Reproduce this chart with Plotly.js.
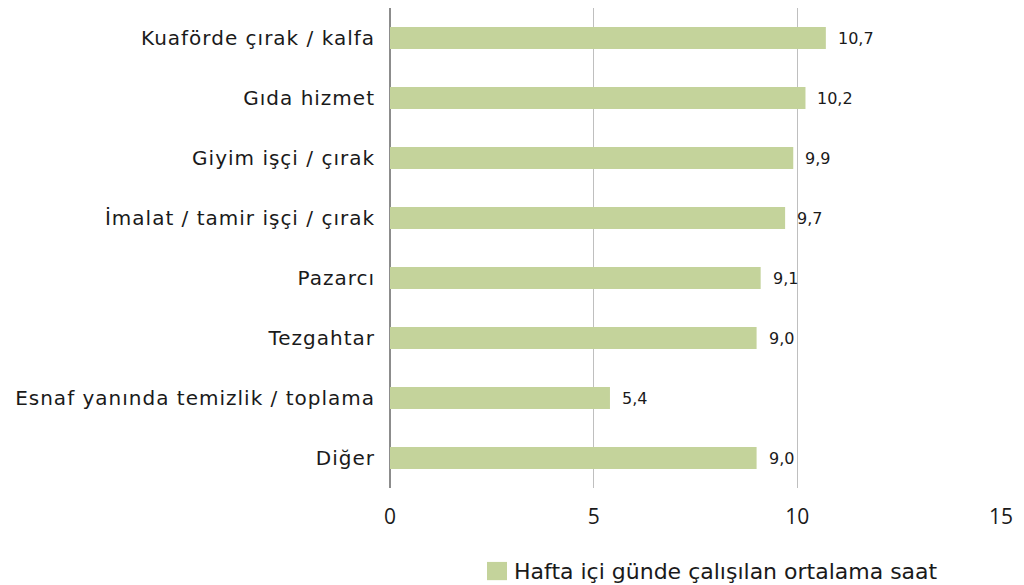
<!DOCTYPE html>
<html>
<head>
<meta charset="utf-8">
<script src="https://cdn.plot.ly/plotly-3.0.1.min.js"></script>
<style>
html,body{margin:0;padding:0;background:#fff;}
#chart{width:1024px;height:585px;}
#chart .ytick text{letter-spacing:1px;}
</style>
</head>
<body>
<div id="chart"></div>
<script>
const categories = ["Kuaförde çırak / kalfa", "Gıda hizmet", "Giyim işçi / çırak", "İmalat / tamir işçi / çırak", "Pazarcı", "Tezgahtar", "Esnaf yanında temizlik / toplama", "Diğer"];
const hours = [10.7, 10.2, 9.9, 9.7, 9.1, 9.0, 5.4, 9.0];
const seriesName = "Hafta içi günde çalışılan ortalama saat";
const xTicks = [0, 5, 10, 15];

const fmt = v => v.toFixed(1).replace(".", ",");
const labelFont = "DejaVu Sans, sans-serif";
const color = "#1a1a1a";
const barColor = "#c4d39b";

const trace = {
  type: "bar",
  orientation: "h",
  x: hours,
  y: categories,
  name: seriesName,
  marker: {color: barColor},
  width: 0.37,
  showlegend: false
};

const annotations = hours.map((v, i) => ({
  x: v, y: categories[i], xref: "x", yref: "y",
  text: fmt(v), showarrow: false, xanchor: "left", xshift: 10,
  font: {family: labelFont, size: 16, color: color}
}));
annotations.push({
  xref: "paper", yref: "paper", x: 0.199, y: -0.173,
  xanchor: "left", yanchor: "middle", showarrow: false,
  text: seriesName, font: {family: labelFont, size: 22, color: color}
});

const layout = {
  width: 1024, height: 585,
  margin: {l: 390, r: 23, t: 8, b: 97},
  paper_bgcolor: "#fff", plot_bgcolor: "#fff",
  font: {family: labelFont, color: color},
  xaxis: {
    range: [0, 15], tickvals: xTicks, ticktext: xTicks.map(String),
    showgrid: true, gridcolor: "#bfbfbf", gridwidth: 1,
    zeroline: true, zerolinecolor: "#8c8c8c", zerolinewidth: 1.5,
    showline: false, ticks: "", ticklabelstandoff: 14,
    tickfont: {family: "Open Sans, sans-serif", size: 21, color: color}, fixedrange: true
  },
  yaxis: {
    autorange: "reversed", categoryorder: "array", categoryarray: categories,
    showgrid: false, zeroline: false, showline: false, ticks: "",
    ticklabelstandoff: 14,
    tickfont: {family: labelFont, size: 20, color: color}, fixedrange: true
  },
  showlegend: false,
  shapes: [{
    type: "rect", xref: "paper", yref: "paper",
    x0: 0.1588, x1: 0.1915, y0: -0.154, y1: -0.192,
    fillcolor: barColor, line: {width: 0}
  }],
  annotations: annotations
};

Plotly.newPlot("chart", [trace], layout, {displayModeBar: false, staticPlot: true});
</script>
</body>
</html>
